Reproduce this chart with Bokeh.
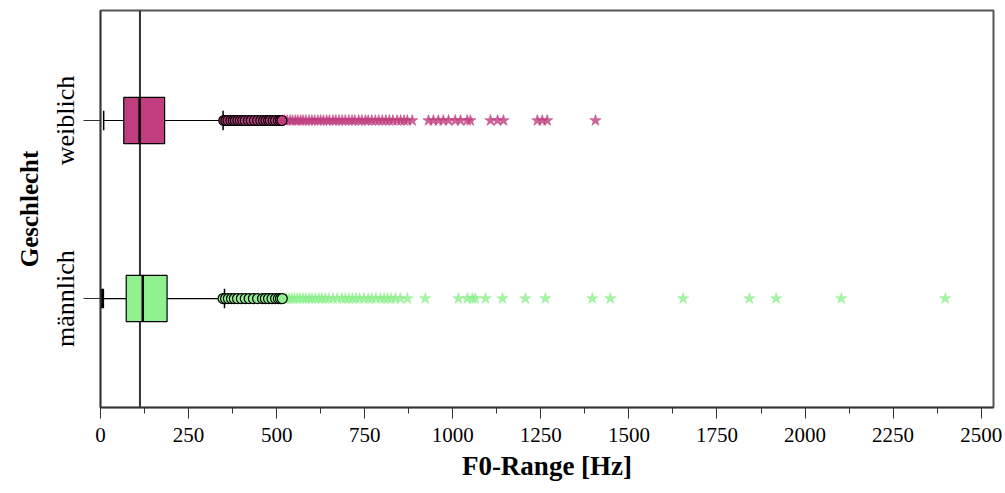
from bokeh.plotting import figure
from bokeh.models import Range1d, FixedTicker, Span, ColumnDataSource
from bokeh.embed import file_html
from bokeh.resources import INLINE

# ---- data ----
categories = ["männlich", "weiblich"]
cat_pos = [1, 2]
q1 = [73, 66]
median = [120, 111]
q3 = [189, 182]
whisker_low = [6, 9]
whisker_high = [352, 348]
colors = ["#90f090", "#c03e80"]

maennlich_circles = [348, 355, 363, 372, 380, 389, 400, 411, 422, 434, 446, 460, 468,
                     477, 487, 497, 505, 511, 516]
maennlich_stars = [522, 528, 535, 543, 550, 558, 566, 575, 583, 592, 600, 610, 620, 628,
                   638, 648, 660, 672, 685, 695, 705, 715, 725, 735, 748, 760, 770, 782,
                   795, 805, 815, 825, 837, 851, 871, 922, 1016, 1041, 1056, 1064, 1093,
                   1141, 1206, 1263, 1396, 1447, 1654, 1842, 1918, 2103, 2398]
weiblich_circles = [350, 356, 362, 370, 377, 383, 390, 397, 404, 411, 420, 428, 437, 446,
                    455, 463, 470, 477, 482, 490, 497, 505, 511, 515]
weiblich_stars = [523, 530, 538, 545, 553, 560, 568, 575, 583, 592, 600, 608, 617, 625,
                  633, 642, 650, 660, 668, 677, 686, 695, 705, 714, 722, 733, 742, 752,
                  760, 770, 780, 790, 800, 810, 820, 830, 842, 852, 862, 871, 885, 931,
                  945, 959, 973, 988, 1007, 1022, 1041, 1050, 1107, 1127, 1144, 1240,
                  1254, 1268, 1405]
reference_value = 112
x_ticks = [0, 250, 500, 750, 1000, 1250, 1500, 1750, 2000, 2250, 2500]

SERIF = "Liberation Serif"

p = figure(width=1005, height=493, output_backend="svg", toolbar_location=None,
           x_range=Range1d(0, 2535), y_range=Range1d(0.388, 2.618),
           min_border_left=100, min_border_right=12, min_border_top=10, min_border_bottom=86)
p.xgrid.visible = False
p.ygrid.visible = False
p.outline_line_color = "#555555"
p.outline_line_width = 2
p.background_fill_color = "white"
p.border_fill_color = "white"

p.add_layout(Span(location=reference_value, dimension="height", line_color="#333333",
                  line_width=2, level="underlay"))

half = 0.13
cap = 0.055
src = ColumnDataSource(dict(y=cat_pos, q1=q1, q3=q3, med=median, lo=whisker_low,
                            hi=whisker_high, c=colors, lw=[3, 1.5],
                            yb=[v - half for v in cat_pos], yt=[v + half for v in cat_pos],
                            cb=[v - cap for v in cat_pos], ct=[v + cap for v in cat_pos]))

# whiskers
p.segment(x0="lo", y0="y", x1="q1", y1="y", source=src, line_color="black", line_width=1.2)
p.segment(x0="q3", y0="y", x1="hi", y1="y", source=src, line_color="black", line_width=1.2)
p.segment(x0="lo", y0="cb", x1="lo", y1="ct", source=src, line_color="black", line_width="lw")
p.segment(x0="hi", y0="cb", x1="hi", y1="ct", source=src, line_color="black", line_width=1.5)
# boxes
p.quad(left="q1", right="q3", bottom="yb", top="yt", source=src, fill_color="c",
       line_color="black", line_width=1.2)
p.segment(x0="med", y0="yb", x1="med", y1="yt", source=src, line_color="black", line_width=2.5)

# outliers
for vals_c, vals_s, y, col in [(maennlich_circles, maennlich_stars, 1, colors[0]),
                               (weiblich_circles, weiblich_stars, 2, colors[1])]:
    p.scatter(x=vals_s, y=[y] * len(vals_s), marker="star", size=12,
              fill_color=col, line_color=col, line_alpha=0.5, fill_alpha=0.8)
    p.scatter(x=vals_c, y=[y] * len(vals_c), marker="circle", size=10,
              fill_color=col, line_color="black", line_width=1.2)

# x axis
xa = p.xaxis[0]
xa.ticker = FixedTicker(ticks=x_ticks, minor_ticks=[v + 125 for v in x_ticks])
xa.axis_label = "F0-Range [Hz]"
xa.axis_label_text_font = SERIF
xa.axis_label_text_font_style = "bold"
xa.axis_label_text_font_size = "27px"
xa.axis_label_text_color = "black"
xa.axis_label_standoff = 6
xa.major_label_text_font = SERIF
xa.major_label_text_font_size = "21px"
xa.major_label_text_color = "black"
xa.major_label_standoff = 9
xa.major_tick_in = 0
xa.major_tick_out = 11
xa.minor_tick_in = 0
xa.minor_tick_out = 6
xa.axis_line_color = "#333333"
xa.major_tick_line_color = "#333333"
xa.minor_tick_line_color = "#333333"
xa.axis_line_width = 1.5

# y axis
ya = p.yaxis[0]
ya.ticker = FixedTicker(ticks=cat_pos, minor_ticks=[])
ya.major_label_overrides = {cat_pos[i]: categories[i] for i in range(len(categories))}
ya.major_label_orientation = "vertical"
ya.axis_label = "Geschlecht"
ya.axis_label_text_font = SERIF
ya.axis_label_text_font_style = "bold"
ya.axis_label_text_font_size = "25px"
ya.axis_label_text_color = "black"
ya.axis_label_standoff = 6
ya.major_label_text_font = SERIF
ya.major_label_text_font_size = "26px"
ya.major_label_text_color = "black"
ya.major_label_standoff = 3
ya.major_tick_in = 0
ya.major_tick_out = 17
ya.minor_tick_in = 0
ya.minor_tick_out = 0
ya.axis_line_color = "#333333"
ya.major_tick_line_color = "#333333"
ya.axis_line_width = 1.5

open("out.html", "w").write(file_html(p, INLINE))
